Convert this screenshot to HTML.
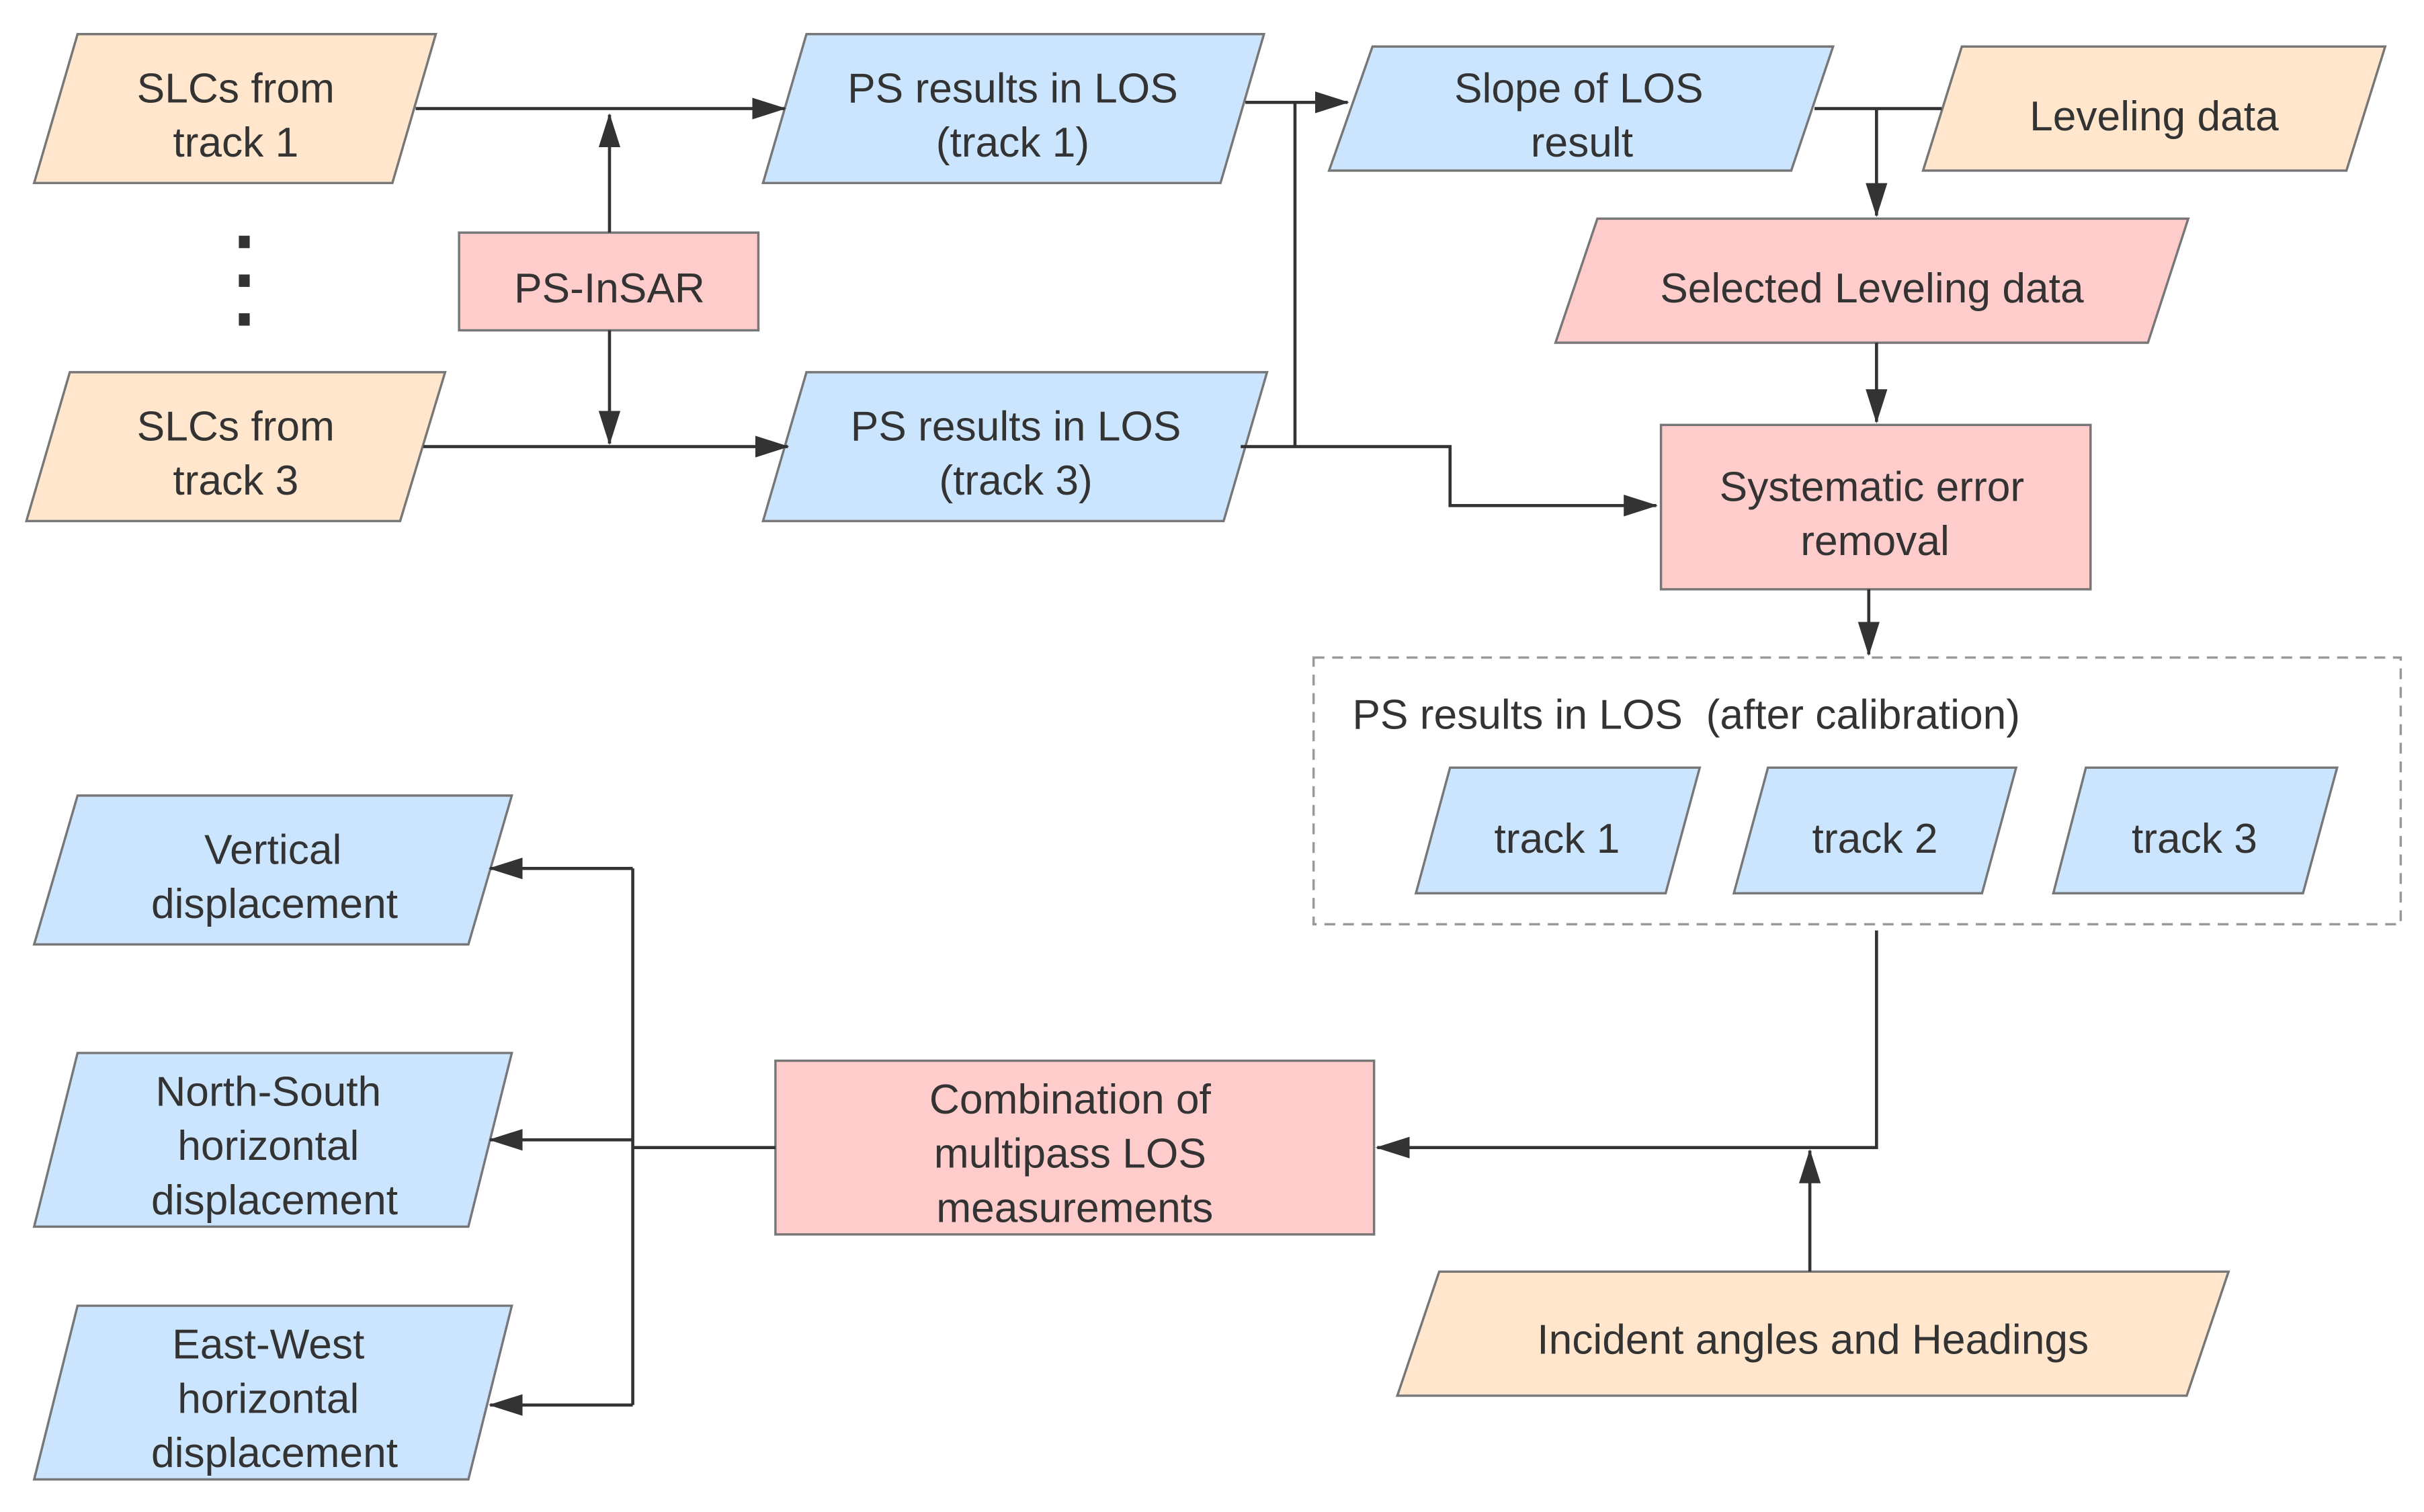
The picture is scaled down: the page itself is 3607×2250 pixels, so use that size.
<!DOCTYPE html>
<html><head><meta charset="utf-8"><style>html,body{margin:0;padding:0;background:#fff}svg{display:block}</style></head>
<body>
<svg width="3607" height="2250" viewBox="0 0 1563 975" xmlns="http://www.w3.org/2000/svg" font-family="Liberation Sans, Arial, sans-serif" font-size="27" fill="#333">
<defs>
<marker id="b" markerWidth="22" markerHeight="14" refX="21" refY="7" orient="auto" markerUnits="userSpaceOnUse" viewBox="0 0 22 14"><path d="M0,0 L22,7 L0,14 z" fill="#333"/></marker></defs>
<g stroke="#777" stroke-width="1.5">
<polygon points="50,22 281,22 253,118 22,118" fill="#FFE6CC"/>
<polygon points="45,240 287,240 258,336 17,336" fill="#FFE6CC"/>
<rect x="296" y="150" width="193" height="63" fill="#FFCCCC"/>
<polygon points="520,22 815,22 787,118 492,118" fill="#CCE5FF"/>
<polygon points="520,240 817,240 789,336 492,336" fill="#CCE5FF"/>
<polygon points="885,30 1182,30 1155,110 857,110" fill="#CCE5FF"/>
<polygon points="1265,30 1538,30 1513,110 1240,110" fill="#FFE6CC"/>
<polygon points="1030,141 1411,141 1385,221 1003,221" fill="#FFCCCC"/>
<rect x="1071" y="274" width="277" height="106" fill="#FFCCCC"/>
<polygon points="935,495 1096,495 1074,576 913,576" fill="#CCE5FF"/>
<polygon points="1140,495 1300,495 1278,576 1118,576" fill="#CCE5FF"/>
<polygon points="1345,495 1507,495 1485,576 1324,576" fill="#CCE5FF"/>
<polygon points="50,513 330,513 302,609 22,609" fill="#CCE5FF"/>
<polygon points="50,679 330,679 302,791 22,791" fill="#CCE5FF"/>
<polygon points="50,842 330,842 302,954 22,954" fill="#CCE5FF"/>
<rect x="500" y="684" width="386" height="112" fill="#FFCCCC"/>
<polygon points="928,820 1437,820 1410,900 901,900" fill="#FFE6CC"/>
</g>
<rect x="847" y="424" width="701" height="172" fill="none" stroke="#999" stroke-width="1.5" stroke-dasharray="7,5"/>
<g fill="#333"><rect x="154" y="152" width="7" height="8"/><rect x="154" y="177" width="7" height="8"/><rect x="154" y="202" width="7" height="8"/></g>
<g stroke="#333" stroke-width="2" fill="none">
<path d="M268,70 H506" marker-end="url(#b)"/>
<path d="M393,150 V74" marker-end="url(#b)"/>
<path d="M393,213 V286" marker-end="url(#b)"/>
<path d="M273,288 H508" marker-end="url(#b)"/>
<path d="M803,66 H869" marker-end="url(#b)"/>
<path d="M835,66 V288"/>
<path d="M800,288 H935 V326 H1068" marker-end="url(#b)"/>
<path d="M1170,70 H1252"/>
<path d="M1210,70 V139" marker-end="url(#b)"/>
<path d="M1210,221 V272" marker-end="url(#b)"/>
<path d="M1205,380 V422" marker-end="url(#b)"/>
<path d="M1210,600 V740 H888" marker-end="url(#b)"/>
<path d="M1167,820 V742" marker-end="url(#b)"/>
<path d="M500,740 H408"/>
<path d="M408,560 V906"/>
<path d="M408,560 H316" marker-end="url(#b)"/>
<path d="M408,735 H316" marker-end="url(#b)"/>
<path d="M408,906 H316" marker-end="url(#b)"/>
</g>
<g text-anchor="middle">
<text x="152" y="66">SLCs from</text><text x="152" y="101">track 1</text>
<text x="152" y="284">SLCs from</text><text x="152" y="319">track 3</text>
<text x="393" y="195">PS-InSAR</text>
<text x="653" y="66">PS results in LOS</text><text x="653" y="101">(track 1)</text>
<text x="655" y="284">PS results in LOS</text><text x="655" y="319">(track 3)</text>
<text x="1018" y="66">Slope of LOS</text><text x="1020" y="101">result</text>
<text x="1389" y="84">Leveling data</text>
<text x="1207" y="195">Selected Leveling data</text>
<text x="1207" y="323">Systematic error</text><text x="1209" y="358">removal</text>
<text x="1004" y="550">track 1</text>
<text x="1209" y="550">track 2</text>
<text x="1415" y="550">track 3</text>
<text x="176" y="557">Vertical</text><text x="177" y="592">displacement</text>
<text x="173" y="713">North-South</text><text x="173" y="748">horizontal</text><text x="177" y="783">displacement</text>
<text x="173" y="876">East-West</text><text x="173" y="911">horizontal</text><text x="177" y="946">displacement</text>
<text x="690" y="718">Combination of</text><text x="690" y="753">multipass LOS</text><text x="693" y="788">measurements</text>
<text x="1169" y="873">Incident angles and Headings</text>
</g>
<text x="872" y="470" xml:space="preserve">PS results in LOS  (after calibration)</text>
</svg>
</body></html>
